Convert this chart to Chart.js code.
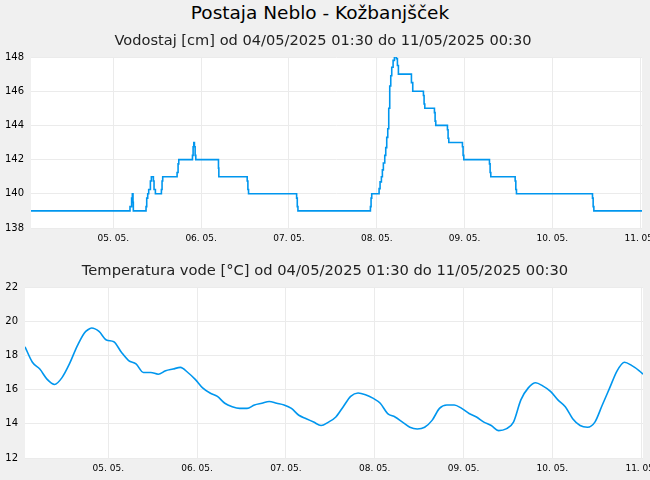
<!DOCTYPE html>
<html>
<head>
<meta charset="utf-8">
<script src="https://cdn.jsdelivr.net/npm/chart.js@4.4.1/dist/chart.umd.min.js"></script>
<style>
  body { margin: 0; background: #f0f0f0; font-family: "DejaVu Sans", sans-serif; }
  #wrap { position: relative; width: 650px; height: 480px; overflow: hidden; }
  .title { position: absolute; left: 0; width: 650px; text-align: center; color: #000; white-space: nowrap; z-index: 2; }
  #t1 { top: 2px; left: -5px; font-size: 18.5px; }
  #t2 { top: 31px; left: -2px; font-size: 14.6px; color: #222; }
  #t3 { top: 261px; font-size: 14.7px; color: #222; }
  canvas { position: absolute; left: 0; }
  #levelChart { top: 44px; }
  #tempChart { top: 274px; }
</style>
</head>
<body>
<div id="wrap">
  <div class="title" id="t1">Postaja Neblo - Kožbanjšček</div>
  <div class="title" id="t2">Vodostaj [cm] od 04/05/2025 01:30 do 11/05/2025 00:30</div>
  <div class="title" id="t3">Temperatura vode [°C] od 04/05/2025 01:30 do 11/05/2025 00:30</div>
  <canvas id="levelChart" width="650" height="206"></canvas>
  <canvas id="tempChart" width="650" height="206"></canvas>
</div>
<script>
// hours counted from 04/05/2025 01:30
const dayTickHours = [22.5, 46.5, 70.5, 94.5, 118.5, 142.5, 166.5];
const dayTickLabels = ['05. 05.', '06. 05.', '07. 05.', '08. 05.', '09. 05.', '10. 05.', '11. 05.'];

// water level, value holds from each hour on
const levelHours = [0, 27.06, 27.5, 27.7, 27.88, 27.97, 31.44, 31.63, 31.9, 32.17, 32.63, 32.9, 33.45, 33.63, 34.0,
  35.64, 35.82, 36.0, 39.93, 40.2, 40.39, 44.13, 44.31, 44.49, 44.67, 44.86, 45.04, 51.24, 51.34,
  59.09, 59.28, 59.46, 72.6, 72.78, 72.96, 92.77, 92.95, 93.13, 95.14, 95.41, 95.77, 96.04, 96.31,
  96.69, 96.96, 97.23, 97.51, 97.78, 98.05, 98.33, 98.6, 98.97, 99.33, 99.88, 100.15, 100.42,
  103.98, 104.34, 107.26, 107.44, 107.63, 110.27, 110.45, 110.63, 113.82, 114.0, 114.19,
  117.92, 118.1, 118.29, 125.31, 125.49, 125.67, 132.33, 132.51, 132.69, 153.47, 153.65, 153.84, 167];
const levelValues = [139, 139.25, 139.75, 140, 139.5, 139, 139.25, 139.75, 140, 140.25, 140.75, 141, 140.75, 140.25, 140,
  140.25, 140.75, 141, 141.25, 141.75, 142, 142.25, 142.75, 143, 142.75, 142.25, 142, 141.5, 141,
  140.75, 140.25, 140, 139.75, 139.25, 139, 139.25, 139.75, 140, 140.3, 140.7, 141, 141.4, 141.8,
  142.25, 142.7, 143.3, 143.8, 145, 146.3, 146.9, 147.4, 147.8, 148, 147.9, 147.5, 147,
  146.5, 146, 145.75, 145.25, 145, 144.75, 144.25, 144, 143.75, 143.25, 143,
  142.75, 142.25, 142, 141.75, 141.25, 141, 140.75, 140.25, 140, 139.75, 139.25, 139, 139];

// water temperature
const tempHours = [0, 2, 4, 6, 8, 10, 12, 14, 16, 17, 18, 20, 22, 24, 26, 28, 30, 32, 34, 36, 38, 40, 42, 44, 46, 48,
  50, 52, 54, 56, 58, 60, 62, 64, 66, 68, 70, 72, 74, 76, 78, 80, 82, 84, 86, 88, 90, 92, 94, 96, 98,
  100, 102, 104, 106, 108, 110, 112, 114, 116, 118, 120, 122, 124, 126, 128, 130, 132, 134, 136, 138,
  140, 142, 144, 146, 148, 150, 152, 154, 156, 158, 160, 162, 164, 166, 167];
const tempValues = [18.5, 17.6, 17.2, 16.6, 16.3, 16.7, 17.5, 18.5, 19.3, 19.5, 19.6, 19.4, 18.9, 18.8, 18.2, 17.7, 17.5, 17.0, 17.0, 16.9, 17.1, 17.2, 17.3, 17.0, 16.6, 16.1,
  15.8, 15.6, 15.2, 15.0, 14.9, 14.9, 15.1, 15.2, 15.3, 15.2, 15.1, 14.9, 14.5, 14.3, 14.1, 13.9, 14.1, 14.4, 15.0, 15.6, 15.8, 15.7, 15.5, 15.2, 14.6,
  14.4, 14.1, 13.8, 13.7, 13.8, 14.2, 14.9, 15.1, 15.1, 14.9, 14.6, 14.4, 14.1, 13.9, 13.6, 13.7, 14.1, 15.4, 16.1, 16.4,
  16.2, 15.9, 15.4, 15.0, 14.3, 13.9, 13.8, 14.1, 15.1, 16.1, 17.1, 17.6, 17.4, 17.1, 16.9];

Chart.defaults.font.family = '"DejaVu Sans", sans-serif';
Chart.defaults.color = '#000';

const plotBg = {
  id: 'plotBg',
  beforeDraw(chart) {
    const a = chart.chartArea, c = chart.ctx;
    c.save();
    c.fillStyle = '#ffffff';
    c.fillRect(a.left, a.top, a.right - a.left, a.bottom - a.top);
    c.restore();
  }
};

function makeChart(id, hours, values, yMin, yMax, yWidth, rightPad, stepped) {
  const ctx = document.getElementById(id).getContext('2d');
  return new Chart(ctx, {
    type: 'line',
    data: {
      datasets: [{
        data: hours.map((h, i) => ({ x: h, y: values[i] })),
        borderColor: '#0096ee',
        borderWidth: 1.6,
        pointRadius: 0,
        fill: false,
        stepped: stepped,
        cubicInterpolationMode: stepped ? 'default' : 'monotone'
      }]
    },
    options: {
      responsive: false,
      animation: false,
      layout: { padding: { top: 12, right: rightPad, left: 0, bottom: 0 } },
      plugins: { legend: { display: false }, tooltip: { enabled: false } },
      scales: {
        x: {
          type: 'linear',
          min: 0,
          max: 167,
          afterBuildTicks: s => { s.ticks = dayTickHours.map(v => ({ value: v })); },
          afterFit: s => { s.height = 22; s.paddingLeft = 0; s.paddingRight = 0; },
          grid: { color: '#ebebeb', drawTicks: false },
          border: { display: false },
          ticks: {
            autoSkip: false,
            maxRotation: 0,
            padding: 5,
            font: { size: 9 },
            callback: (v, i) => dayTickLabels[i]
          }
        },
        y: {
          min: yMin,
          max: yMax,
          afterFit: s => { s.width = yWidth; },
          grid: { color: '#ebebeb', drawTicks: false },
          border: { display: false },
          ticks: { stepSize: 2, padding: 7, font: { size: 10 } }
        }
      }
    },
    plugins: [plotBg]
  });
}

makeChart('levelChart', levelHours, levelValues, 138, 148, 31, 8, 'before');
makeChart('tempChart', tempHours, tempValues, 12, 22, 25, 7, false);
</script>
</body>
</html>
